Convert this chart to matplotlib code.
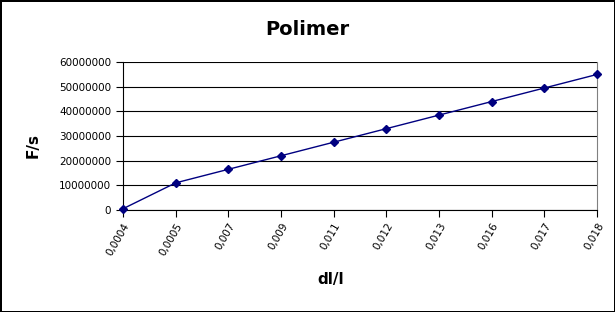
import matplotlib
matplotlib.use("Agg")
import matplotlib.pyplot as plt
from matplotlib.ticker import FuncFormatter

# categories on the x axis (Excel-style category axis)
dl_labels = ["0,0004", "0,0005", "0,007", "0,009", "0,011",
             "0,012", "0,013", "0,016", "0,017", "0,018"]
f_values = [500000, 11000000, 16500000, 22000000, 27500000,
            33000000, 38500000, 44000000, 49500000, 55000000]
y_ticks = [0, 10000000, 20000000, 30000000, 40000000, 50000000, 60000000]

fig = plt.figure(figsize=(6.15, 3.12), dpi=100, edgecolor="black", linewidth=1)
ax = fig.add_axes([0.2, 0.327, 0.771, 0.474])

x = list(range(len(dl_labels)))
ax.plot(x, f_values, color="#000080", linewidth=1, marker="D", markersize=4.5,
        clip_on=False, zorder=3)

ax.set_xlim(0, len(dl_labels) - 1)
ax.set_ylim(0, 60000000)
ax.set_yticks(y_ticks)
ax.yaxis.set_major_formatter(FuncFormatter(lambda v, p: "%d" % v))
ax.set_xticks(x)
ax.set_xticklabels(dl_labels, rotation=60, ha="right", va="top",
                   rotation_mode="anchor")

ax.grid(axis="y", color="black", linewidth=0.8)
ax.set_axisbelow(True)
ax.tick_params(axis="both", direction="out", length=5, width=0.8, labelsize=7.5,
               color="black")
ax.tick_params(axis="x", pad=3)

ax.spines["top"].set_visible(False)
ax.spines["right"].set_color("#808080")
ax.spines["right"].set_linewidth(0.8)
ax.spines["left"].set_linewidth(0.8)
ax.spines["bottom"].set_linewidth(0.8)

fig.text(0.5, 0.905, "Polimer", ha="center", va="center",
         fontsize=14, fontweight="bold")
fig.text(0.054, 0.535, "F/s", ha="center", va="center", rotation=90,
         fontsize=11, fontweight="bold")
fig.text(0.537, 0.103, "dl/l", ha="center", va="center",
         fontsize=11, fontweight="bold")

fig.savefig("out.png", dpi=100, edgecolor=fig.get_edgecolor())
